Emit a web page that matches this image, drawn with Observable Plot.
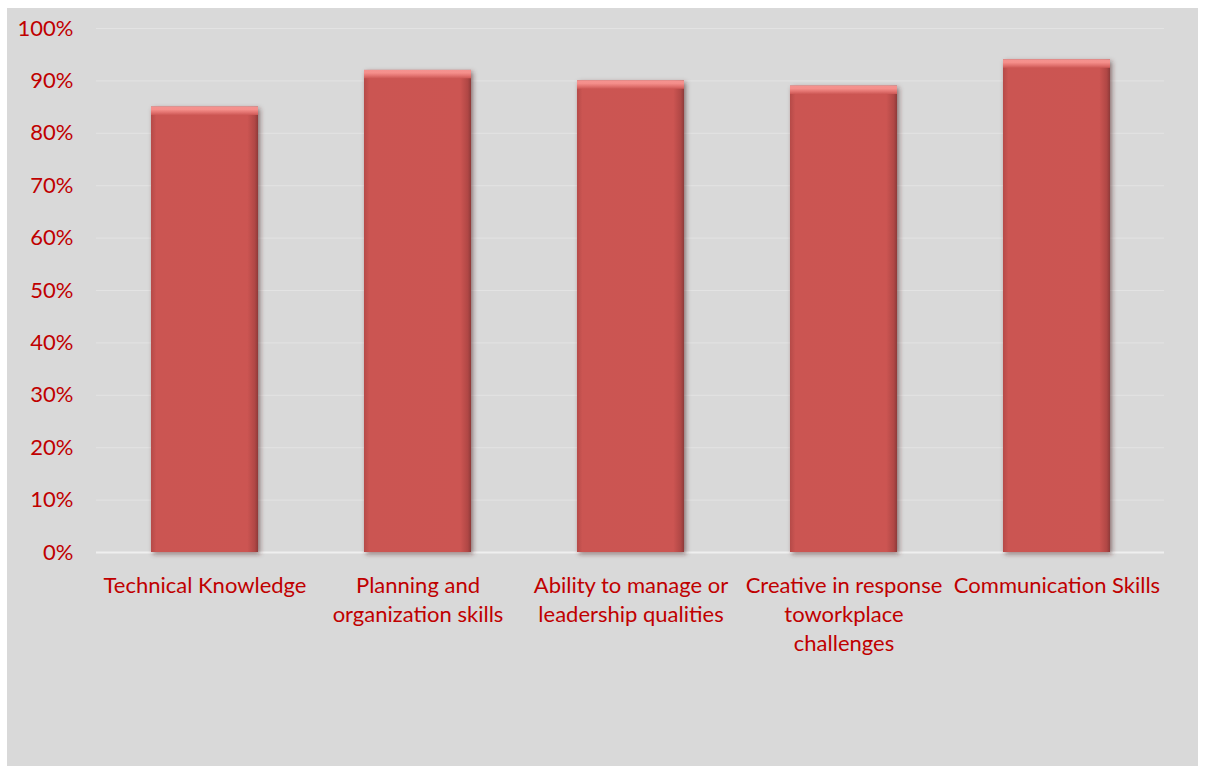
<!DOCTYPE html>
<html>
<head>
<meta charset="utf-8">
<script src="https://cdn.jsdelivr.net/npm/d3@7"></script>
<script src="https://cdn.jsdelivr.net/npm/@observablehq/plot@0.6"></script>
<style>
  html, body { margin: 0; padding: 0; background: #ffffff; }
  #chart { position: absolute; left: 7px; top: 8px; }
</style>
</head>
<body>
<div id="chart"></div>
<script>
const categories = [
  "Technical Knowledge",
  "Planning and organization skills",
  "Ability to manage or leadership qualities",
  "Creative in response toworkplace challenges",
  "Communication Skills"
];
const values = [85, 92, 90, 89, 94];
const tickLabels = [
  "Technical Knowledge",
  "Planning and\norganization skills",
  "Ability to manage or\nleadership qualities",
  "Creative in response\ntoworkplace\nchallenges",
  "Communication Skills"
];
const yTicks = [0, 10, 20, 30, 40, 50, 60, 70, 80, 90, 100];

const data = categories.map((c, i) => ({category: c, value: values[i]}));
const labelOf = new Map(categories.map((c, i) => [c, tickLabels[i]]));
const red = "#c00000";

const svg = Plot.plot({
  width: 1191,
  height: 758,
  marginLeft: 89,
  marginRight: 34,
  marginTop: 20,
  marginBottom: 214,
  style: {background: "#d9d9d9", fontFamily: "Lato, 'Open Sans', sans-serif"},
  x: {domain: categories, paddingInner: 0.5, paddingOuter: 0.25, label: null},
  y: {domain: [0, 100], label: null},
  marks: [
    Plot.gridY(yTicks.filter(d => d > 0), {stroke: "#e3e3e3", strokeOpacity: 1, strokeWidth: 1}),
    Plot.ruleY([0], {stroke: "#efefef", strokeWidth: 2}),
    // shadow
    Plot.barY(data, {x: "category", y: "value", fill: "#4a2222", fillOpacity: 0.55, dx: 2, dy: 2}),
    // body
    Plot.barY(data, {x: "category", y: "value", fill: "url(#barBody)"}),
    // top bevel
    Plot.barY(data, {x: "category", y1: d => d.value - 1.6, y2: "value", fill: "url(#barTop)"}),
    Plot.axisY({ticks: yTicks, tickSize: 0, tickPadding: 23, tickFormat: d => d + "%", fontSize: 22, fill: red}),
    Plot.axisX({tickSize: 0, tickPadding: 20, tickFormat: d => labelOf.get(d), fontSize: 22, lineHeight: 1.32, fill: red})
  ]
});

const s = d3.select(svg);
const defs = s.insert("defs", ":first-child");
const gb = defs.append("linearGradient").attr("id", "barBody").attr("x1", 0).attr("x2", 1).attr("y1", 0).attr("y2", 0);
[[0, "#b54a48"], [0.05, "#cb5552"], [0.9, "#cc5552"], [0.97, "#b04745"], [1, "#8e3a39"]].forEach(([o, c]) => gb.append("stop").attr("offset", o).attr("stop-color", c));
const gt = defs.append("linearGradient").attr("id", "barTop").attr("x1", 0).attr("x2", 0).attr("y1", 0).attr("y2", 1);
[[0, "#f4928f"], [0.35, "#f58f8b"], [0.7, "#e2726f"], [1, "#cd5855"]].forEach(([o, c]) => gt.append("stop").attr("offset", o).attr("stop-color", c));
const f = defs.append("filter").attr("id", "blur").attr("x", "-20%").attr("y", "-20%").attr("width", "140%").attr("height", "140%");
f.append("feGaussianBlur").attr("stdDeviation", 2.5);
const bars = svg.querySelectorAll('g[aria-label="bar"]');
if (bars[0]) bars[0].setAttribute("filter", "url(#blur)");

document.getElementById("chart").appendChild(svg);
</script>
</body>
</html>
